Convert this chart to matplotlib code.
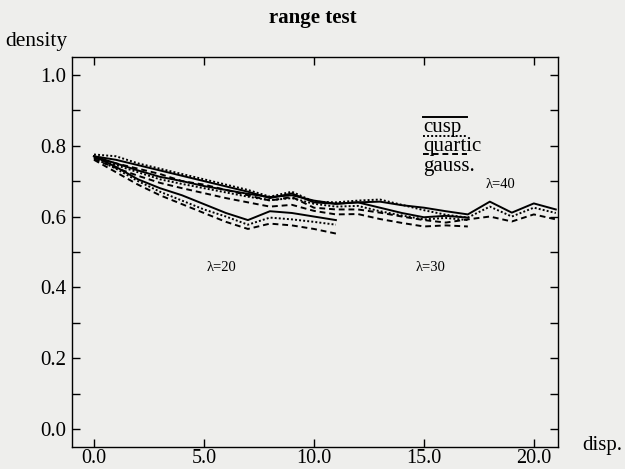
import matplotlib
matplotlib.use("Agg")
import matplotlib.pyplot as plt
from matplotlib.lines import Line2D
from matplotlib.ticker import MultipleLocator

# displacement samples for each range
x_l20 = list(range(0, 12))
x_l30 = list(range(0, 18))
x_l40 = list(range(0, 22))

# lambda = 20
cusp_l20 = [0.77, 0.74, 0.705, 0.68, 0.66, 0.635, 0.61, 0.59, 0.615, 0.61, 0.60, 0.59]
quartic_l20 = [0.765, 0.735, 0.70, 0.67, 0.645, 0.62, 0.60, 0.577, 0.597, 0.592, 0.585, 0.577]
gauss_l20 = [0.76, 0.725, 0.69, 0.66, 0.635, 0.61, 0.585, 0.565, 0.58, 0.575, 0.565, 0.552]

# lambda = 30
cusp_l30 = [0.77, 0.75, 0.73, 0.712, 0.70, 0.686, 0.675, 0.664, 0.655, 0.66, 0.645, 0.636,
            0.64, 0.625, 0.61, 0.598, 0.602, 0.597]
quartic_l30 = [0.768, 0.745, 0.725, 0.705, 0.692, 0.68, 0.668, 0.656, 0.646, 0.652, 0.636, 0.628,
               0.63, 0.615, 0.603, 0.592, 0.596, 0.59]
gauss_l30 = [0.762, 0.737, 0.715, 0.695, 0.68, 0.666, 0.652, 0.64, 0.628, 0.633, 0.616, 0.606,
             0.607, 0.593, 0.582, 0.572, 0.575, 0.572]

# lambda = 40
cusp_l40 = [0.77, 0.76, 0.745, 0.73, 0.715, 0.70, 0.685, 0.67, 0.652, 0.665, 0.64, 0.636,
            0.64, 0.642, 0.632, 0.625, 0.615, 0.606, 0.642, 0.611, 0.637, 0.62]
quartic_l40 = [0.775, 0.77, 0.75, 0.735, 0.72, 0.705, 0.69, 0.675, 0.656, 0.67, 0.642, 0.64,
               0.645, 0.648, 0.633, 0.618, 0.605, 0.597, 0.628, 0.60, 0.625, 0.61]
gauss_l40 = [0.765, 0.75, 0.735, 0.72, 0.70, 0.69, 0.675, 0.66, 0.645, 0.655, 0.625, 0.62,
             0.62, 0.611, 0.60, 0.59, 0.583, 0.592, 0.60, 0.586, 0.606, 0.592]

filters = ["cusp", "quartic", "gauss."]
lambda_labels = ["λ=20", "λ=30", "λ=40"]
label_pos = [(5.8, 0.456), (15.3, 0.456), (18.5, 0.69)]

styles = {
    "cusp": dict(linestyle="-", linewidth=1.4),
    "quartic": dict(linestyle=(0, (1, 1.1)), linewidth=1.4),
    "gauss.": dict(linestyle=(0, (3.0, 2.0)), linewidth=1.4),
}

plt.rcParams["font.family"] = ["Liberation Serif", "DejaVu Serif"]
bg = "#eeeeec"

fig = plt.figure(figsize=(6.25, 4.69), dpi=100, facecolor=bg)
ax = fig.add_axes([0.1152, 0.0469, 0.7776, 0.8316], facecolor=bg)

groups = [
    (x_l20, [cusp_l20, quartic_l20, gauss_l20]),
    (x_l30, [cusp_l30, quartic_l30, gauss_l30]),
    (x_l40, [cusp_l40, quartic_l40, gauss_l40]),
]
for xs, series in groups:
    for name, ys in zip(filters, series):
        ax.plot(xs, ys, color="black", **styles[name])

for text, (lx, ly) in zip(lambda_labels, label_pos):
    ax.text(lx, ly, text, fontsize=10.5, ha="center", va="center")

# legend: sample line above each label
leg_x0, leg_x1 = 0.722, 0.813
line_y = [0.846, 0.797, 0.751]
text_y = [0.818, 0.771, 0.72]
for name, ly, ty in zip(filters, line_y, text_y):
    ax.add_line(Line2D([leg_x0, leg_x1], [ly, ly], color="black",
                       transform=ax.transAxes, **styles[name]))
    ax.text(leg_x0, ty, name, transform=ax.transAxes, fontsize=15,
            ha="left", va="center")

ax.set_xlim(-1.0, 21.1)
ax.set_ylim(-0.05, 1.05)
ax.xaxis.set_major_locator(MultipleLocator(5))
ax.yaxis.set_major_locator(MultipleLocator(0.2))
ax.yaxis.set_minor_locator(MultipleLocator(0.1))
ax.xaxis.set_major_formatter(lambda v, p: f"{v:.1f}")
ax.yaxis.set_major_formatter(lambda v, p: f"{v:.1f}")
ax.tick_params(which="both", direction="in", top=True, right=True,
               length=6, width=1.0, labelsize=15, pad=4)
ax.tick_params(axis="x", labelsize=14.5, pad=1.5)
for sp in ax.spines.values():
    sp.set_linewidth(1.0)

fig.text(0.5, 0.962, "range test", fontsize=15, fontweight="bold",
         ha="center", va="center")
fig.text(0.008, 0.912, "density", fontsize=15.5, ha="left", va="center")
fig.text(0.931, 0.05, "disp.", fontsize=15, ha="left", va="center")

fig.savefig("out.png", dpi=100, facecolor=bg)
